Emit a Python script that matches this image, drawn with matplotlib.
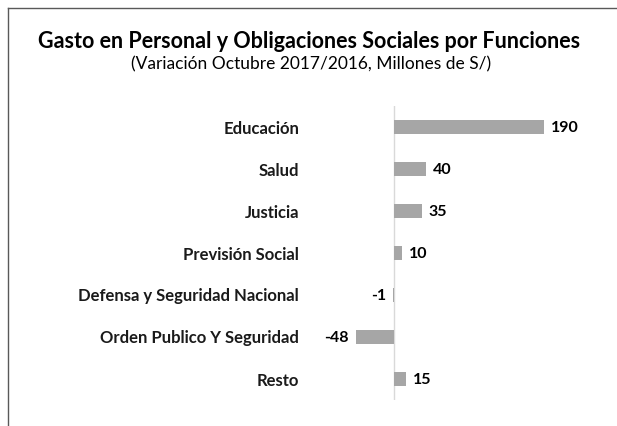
import matplotlib.pyplot as plt
from matplotlib.lines import Line2D

categorias = [
    "Educación",
    "Salud",
    "Justicia",
    "Previsión Social",
    "Defensa y Seguridad Nacional",
    "Orden Publico Y Seguridad",
    "Resto",
]
variacion = [190, 40, 35, 10, -1, -48, 15]

titulo = "Gasto en Personal y Obligaciones Sociales por Funciones"
subtitulo = "(Variación Octubre 2017/2016, Millones de S/)"

W, H = 617, 426
fig = plt.figure(figsize=(W / 100, H / 100), dpi=100)
plt.rcParams["font.family"] = ["Lato", "DejaVu Sans"]

# axes placed in pixel coordinates (zero line at x=394)
ax_left, ax_right, ax_top, ax_bot = 302, 600, 106, 400
ax = fig.add_axes([ax_left / W, 1 - ax_bot / H, (ax_right - ax_left) / W, (ax_bot - ax_top) / H])
scale = 0.79  # px per unit
xmin = -(394 - ax_left) / scale
xmax = xmin + (ax_right - ax_left) / scale
ax.set_xlim(xmin, xmax)

y = list(range(len(categorias)))
ax.barh(y, variacion, height=0.33, color="#a6a6a6", zorder=2)
ax.set_ylim(len(categorias) - 0.5, -0.5)
ax.axvline(0, color="#d9d9d9", lw=1, zorder=1)

ax.set_yticks(y)
ax.set_yticklabels(categorias, fontsize=12, fontweight="bold", color="#1a1a1a")
ax.tick_params(axis="y", length=0, pad=2)
ax.set_xticks([])
for s in ax.spines.values():
    s.set_visible(False)

for yi, v in zip(y, variacion):
    if v >= 0:
        ax.text(v + 7 / scale, yi + 0.03, str(v), ha="left", va="center",
                fontsize=11.5, fontweight="bold", color="black")
    else:
        ax.text(v - 7 / scale, yi + 0.03, str(v), ha="right", va="center",
                fontsize=11.5, fontweight="bold", color="black")

fig.text(309 / W, 1 - 42 / H, titulo, ha="center", va="center",
         fontsize=15.5, fontweight="bold", color="black")
fig.text(311 / W, 1 - 64 / H, subtitulo, ha="center", va="center",
         fontsize=12.5, color="black")

# outer frame (top and left edges visible)
fig.add_artist(Line2D([8 / W, 1], [1 - 8 / H, 1 - 8 / H], color="#595959", lw=1))
fig.add_artist(Line2D([8 / W, 8 / W], [0, 1 - 8 / H], color="#595959", lw=1))

fig.savefig("out.png", dpi=100)
